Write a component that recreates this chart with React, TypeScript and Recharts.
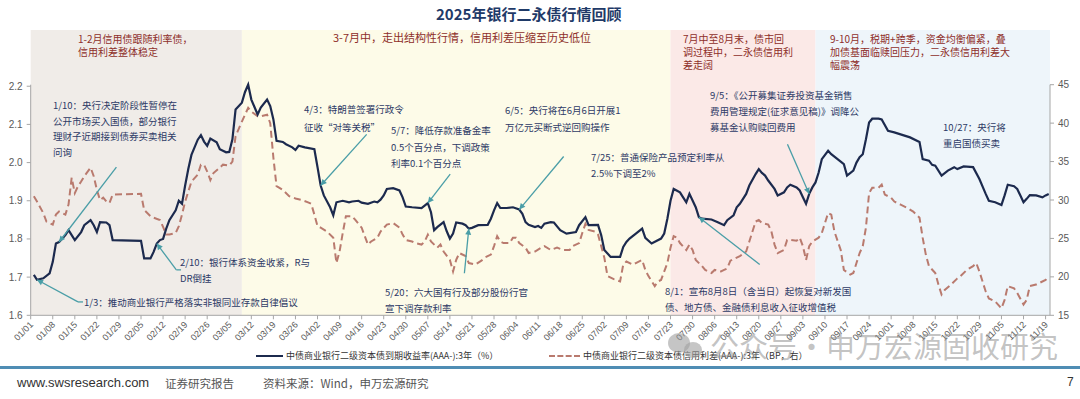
import React from "react"
import { ComposedChart, Line, XAxis, YAxis, ReferenceArea, ReferenceLine } from "recharts"

const tickLabels = [
  "01/01", "01/08", "01/15", "01/22", "01/29", "02/05", "02/12", "02/19", "02/26", "03/05",
  "03/12", "03/19", "03/26", "04/02", "04/09", "04/16", "04/23", "04/30", "05/07", "05/14",
  "05/21", "05/28", "06/04", "06/11", "06/18", "06/25", "07/02", "07/09", "07/16", "07/23",
  "07/30", "08/06", "08/13", "08/20", "08/27", "09/03", "09/10", "09/17", "09/24", "10/01",
  "10/08", "10/15", "10/22", "10/29", "11/05", "11/12", "11/19",
]

// 中债商业银行二级资本债到期收益率(AAA-):3年 (%)
const yieldDates = [
  "01/02", "01/03", "01/05", "01/07", "01/08", "01/09", "01/10", "01/12", "01/13", "01/15",
  "01/17", "01/18", "01/20", "01/21", "01/22", "01/23", "01/25", "01/26", "01/27", "02/05",
  "02/06", "02/08", "02/09", "02/10", "02/11", "02/12", "02/13", "02/14", "02/16", "02/17",
  "02/18", "02/19", "02/20", "02/21", "02/23", "02/24", "02/25", "02/26", "02/27", "03/01",
  "03/02", "03/04", "03/05", "03/06", "03/07", "03/09", "03/10", "03/11", "03/12", "03/14",
  "03/15", "03/17", "03/18", "03/19", "03/20", "03/22", "03/23", "03/25", "03/26", "03/27",
  "03/29", "04/01", "04/02", "04/03", "04/04", "04/06", "04/07", "04/08", "04/10", "04/12",
  "04/13", "04/15", "04/16", "04/18", "04/20", "04/21", "04/22", "04/23", "04/24", "04/26",
  "04/28", "04/29", "04/30", "05/02", "05/05", "05/07", "05/08", "05/09", "05/10", "05/12",
  "05/13", "05/14", "05/15", "05/16", "05/18", "05/19", "05/20", "05/21", "05/23", "05/26",
  "05/27", "05/28", "05/29", "05/30", "06/01", "06/03", "06/05", "06/06", "06/07", "06/08",
  "06/10", "06/11", "06/12", "06/13", "06/15", "06/16", "06/18", "06/20", "06/23", "06/24",
  "06/26", "06/27", "06/30", "07/01", "07/02", "07/04", "07/07", "07/08", "07/09", "07/10",
  "07/12", "07/14", "07/15", "07/17", "07/20", "07/21", "07/22", "07/23", "07/24", "07/26",
  "07/27", "07/28", "07/29", "07/31", "08/01", "08/02", "08/05", "08/07", "08/09", "08/10",
  "08/12", "08/13", "08/14", "08/15", "08/16", "08/17", "08/19", "08/20", "08/21", "08/22",
  "08/23", "08/25", "08/26", "08/28", "08/29", "08/30", "09/01", "09/02", "09/03", "09/04",
  "09/05", "09/06", "09/07", "09/08", "09/09", "09/11", "09/12", "09/14", "09/16", "09/17",
  "09/19", "09/20", "09/21", "09/22", "09/23", "09/24", "09/25", "09/27", "09/28", "09/30",
  "10/02", "10/04", "10/07", "10/10", "10/11", "10/13", "10/14", "10/15", "10/17", "10/19",
  "10/21", "10/22", "10/24", "10/27", "10/29", "10/31", "11/01", "11/03", "11/05", "11/06",
  "11/07", "11/09", "11/10", "11/11", "11/12", "11/13", "11/14", "11/16", "11/18", "11/19",
  "11/20",
]
const yieldValues = [
  1.706, 1.693, 1.697, 1.71, 1.74, 1.788, 1.792, 1.81, 1.823, 1.797,
  1.818, 1.836, 1.849, 1.836, 1.818, 1.844, 1.843, 1.836, 1.797, 1.795,
  1.749, 1.749, 1.766, 1.788, 1.797, 1.8, 1.827, 1.849, 1.875, 1.9,
  1.892, 1.94, 1.983, 2.02, 2.06, 2.072, 2.055, 2.044, 2.063, 2.053,
  2.035, 2.027, 2.028, 2.061, 2.139, 2.157, 2.185, 2.204, 2.165, 2.126,
  2.144, 2.165, 2.148, 2.113, 2.057, 2.054, 2.048, 2.04, 2.033, 2.044,
  2.04, 2.035, 1.988, 1.94, 1.914, 1.883, 1.862, 1.896, 1.9, 1.896,
  1.898, 1.9, 1.895, 1.892, 1.898, 1.896, 1.903, 1.914, 1.931, 1.933,
  1.927, 1.909, 1.885, 1.883, 1.881, 1.894, 1.87, 1.823, 1.831, 1.844,
  1.82, 1.801, 1.814, 1.843, 1.84, 1.836, 1.827, 1.829, 1.836, 1.837,
  1.853, 1.875, 1.894, 1.881, 1.881, 1.883, 1.877, 1.866, 1.844, 1.837,
  1.831, 1.834, 1.829, 1.84, 1.844, 1.843, 1.823, 1.814, 1.818, 1.836,
  1.857, 1.836, 1.837, 1.81, 1.771, 1.753, 1.753, 1.779, 1.792, 1.801,
  1.814, 1.827, 1.803, 1.788, 1.801, 1.814, 1.853, 1.9, 1.931, 1.922,
  1.909, 1.896, 1.918, 1.883, 1.857, 1.853, 1.851, 1.844, 1.836, 1.849,
  1.862, 1.883, 1.892, 1.905, 1.918, 1.94, 1.97, 1.983, 1.973, 1.966,
  1.953, 1.931, 1.914, 1.922, 1.935, 1.942, 1.935, 1.927, 1.909, 1.892,
  1.918, 1.935, 1.948, 1.974, 2.009, 2.031, 2.022, 2.009, 1.996, 1.966,
  1.979, 2.0, 2.014, 2.022, 2.061, 2.105, 2.115, 2.115, 2.113, 2.083,
  2.079, 2.074, 2.066, 2.054, 2.009, 2.005, 1.994, 1.992, 1.966, 1.979,
  1.988, 1.983, 1.99, 1.988, 1.957, 1.918, 1.9, 1.896, 1.889, 1.914,
  1.942, 1.938, 1.931, 1.914, 1.896, 1.905, 1.915, 1.914, 1.909, 1.914,
  1.918,
]

// 中债商业银行二级资本债信用利差(AAA-):3年 (BP，右)
const spreadDates = [
  "01/02", "01/03", "01/05", "01/06", "01/08", "01/09", "01/10", "01/11", "01/12", "01/13",
  "01/14", "01/15", "01/16", "01/17", "01/18", "01/20", "01/21", "01/22", "01/23", "01/24",
  "01/25", "01/26", "01/27", "02/05", "02/06", "02/08", "02/09", "02/11", "02/12", "02/13",
  "02/14", "02/16", "02/17", "02/18", "02/19", "02/20", "02/21", "02/23", "02/24", "02/25",
  "02/26", "02/27", "02/28", "03/02", "03/03", "03/05", "03/06", "03/07", "03/09", "03/11",
  "03/12", "03/14", "03/15", "03/17", "03/18", "03/19", "03/20", "03/22", "03/24", "03/26",
  "03/28", "03/30", "03/31", "04/01", "04/02", "04/03", "04/05", "04/07", "04/08", "04/09",
  "04/10", "04/11", "04/13", "04/14", "04/16", "04/18", "04/19", "04/21", "04/22", "04/24",
  "04/26", "04/28", "04/29", "04/30", "05/02", "05/03", "05/05", "05/06", "05/07", "05/08",
  "05/10", "05/11", "05/12", "05/14", "05/15", "05/16", "05/17", "05/19", "05/20", "05/22",
  "05/24", "05/25", "05/27", "05/28", "05/29", "05/30", "05/31", "06/02", "06/03", "06/04",
  "06/05", "06/07", "06/08", "06/10", "06/12", "06/13", "06/15", "06/17", "06/19", "06/21",
  "06/22", "06/24", "06/25", "06/26", "06/27", "06/29", "06/30", "07/02", "07/03", "07/05",
  "07/07", "07/08", "07/09", "07/11", "07/12", "07/14", "07/15", "07/16", "07/18", "07/19",
  "07/20", "07/22", "07/23", "07/24", "07/25", "07/26", "07/28", "07/29", "07/30", "07/31",
  "08/02", "08/03", "08/05", "08/06", "08/08", "08/09", "08/10", "08/11", "08/13", "08/14",
  "08/16", "08/17", "08/18", "08/19", "08/20", "08/21", "08/23", "08/24", "08/25", "08/26",
  "08/28", "08/29", "08/30", "09/01", "09/02", "09/03", "09/04", "09/05", "09/06", "09/08",
  "09/09", "09/10", "09/11", "09/12", "09/13", "09/15", "09/16", "09/18", "09/19", "09/20",
  "09/21", "09/22", "09/23", "09/24", "09/25", "09/27", "09/28", "09/29", "10/01", "10/02",
  "10/04", "10/06", "10/08", "10/10", "10/11", "10/12", "10/13", "10/15", "10/16", "10/17",
  "10/18", "10/20", "10/22", "10/23", "10/25", "10/27", "10/28", "10/29", "10/31", "11/01",
  "11/03", "11/05", "11/06", "11/07", "11/09", "11/10", "11/12", "11/13", "11/14", "11/16",
  "11/17", "11/19", "11/20",
]
const spreadValues = [
  30.5, 29.8, 28.3, 27.2, 26.8, 28.1, 28.5, 28.3, 28.1, 29.4,
  32.9, 30.9, 31.8, 32.4, 33.1, 34.2, 33.1, 31.3, 30.0, 30.3,
  29.8, 29.6, 30.7, 30.8, 28.7, 27.9, 27.7, 27.4, 26.5, 25.5,
  25.5, 25.7, 26.6, 28.1, 29.8, 31.1, 32.4, 33.3, 34.6, 34.6,
  33.7, 32.6, 33.5, 34.2, 34.6, 34.5, 35.0, 38.3, 40.2, 42.0,
  41.5, 40.9, 40.9, 41.1, 40.0, 35.5, 31.8, 31.3, 30.5, 30.2,
  30.0, 29.7, 29.5, 28.1, 26.6, 26.4, 25.9, 25.1, 21.8, 23.3,
  25.7, 27.9, 27.9, 27.4, 26.4, 24.2, 24.6, 25.1, 25.9, 26.8,
  27.0, 26.4, 25.5, 24.8, 24.6, 24.4, 24.2, 24.6, 25.5, 24.6,
  23.8, 24.2, 23.3, 22.2, 20.7, 22.2, 23.1, 22.7, 21.8, 21.6,
  22.1, 22.5, 22.9, 24.0, 25.3, 24.6, 24.4, 24.4, 25.1, 25.1,
  24.4, 23.8, 23.1, 23.3, 23.8, 24.0, 23.5, 23.8, 23.5, 23.5,
  24.0, 24.4, 25.7, 26.9, 26.1, 25.9, 25.5, 22.5, 20.1, 19.7,
  19.4, 21.6, 22.0, 21.6, 21.8, 22.2, 20.9, 20.1, 18.8, 19.4,
  19.6, 21.8, 23.8, 25.3, 25.1, 24.4, 23.5, 24.2, 23.5, 22.2,
  21.4, 20.9, 20.5, 20.9, 20.7, 20.9, 21.1, 22.1, 22.5, 22.7,
  23.3, 24.6, 25.9, 27.2, 27.4, 27.0, 26.8, 25.9, 24.2, 23.1,
  23.5, 24.8, 24.8, 24.7, 25.1, 24.0, 22.2, 24.0, 24.6, 25.1,
  25.7, 27.0, 28.3, 28.1, 25.9, 23.5, 20.9, 20.3, 20.5, 21.8,
  23.1, 24.0, 26.4, 30.9, 31.6, 31.6, 32.0, 30.7, 30.3, 29.8,
  29.4, 29.0, 28.5, 27.7, 25.1, 22.9, 21.4, 20.5, 19.0, 17.7,
  18.3, 19.0, 19.8, 20.1, 20.9, 21.4, 21.8, 20.7, 18.1, 17.2,
  16.8, 15.9, 17.0, 18.8, 18.5, 17.9, 16.4, 17.0, 18.8, 19.0,
  19.2, 19.6, 20.1,
]

const leftTicks = [1.6, 1.7, 1.8, 1.9, 2.0, 2.1, 2.2]
const rightTicks = [15, 20, 25, 30, 35, 40, 45]

const dayOf = (md: string) => {
  const [m, d] = md.split("/").map(Number)
  return (Date.UTC(2025, m - 1, d) - Date.UTC(2025, 0, 1)) / 86400000
}

const rowMap = new Map<number, { x: number; y?: number; s?: number }>()
yieldDates.forEach((d, i) => {
  const x = dayOf(d)
  rowMap.set(x, { ...(rowMap.get(x) || { x }), y: yieldValues[i] })
})
spreadDates.forEach((d, i) => {
  const x = dayOf(d)
  rowMap.set(x, { ...(rowMap.get(x) || { x }), s: spreadValues[i] })
})
const data = [...rowMap.values()].sort((a, b) => a.x - b.x)

const xEnd = dayOf("11/20") + 0.4
const bandTop = 2.347

const bands = [
  { from: "01/01", to: "03/09", fill: "#f0ece8" },
  { from: "03/09", to: "07/23", fill: "#fdfbe8" },
  { from: "07/23", to: "09/07", fill: "#fbe9e7" },
  { from: "09/07", to: null, fill: "#eef5fa" },
]

const yieldAt = (md: string) => yieldValues[yieldDates.indexOf(md)]

// arrow tails sit next to the note texts (day, left-axis value)
const arrows = [
  { tip: "01/03", tx: 15, ty: 1.635, elbow: 16.6 },
  { tip: "01/10", tx: 27.2, ty: 1.988 },
  { tip: "02/10", tx: 46.2, ty: 1.719, elbow: 47.7 },
  { tip: "04/03", tx: 106.6, ty: 2.074 },
  { tip: "05/07", tx: 133.1, ty: 1.97 },
  { tip: "05/20", tx: 137.6, ty: 1.71 },
  { tip: "06/05", tx: 169.1, ty: 2.016 },
  { tip: "08/01", tx: 231.3, ty: 1.733 },
  { tip: "09/05", tx: 240.1, ty: 2.048 },
]

const headers = [
  { left: 78, top: 32, size: 10, lines: ["1-2月信用债跟随利率债，", "信用利差整体稳定"] },
  { left: 333, top: 31, size: 11, lines: ["3-7月中，走出结构性行情，信用利差压缩至历史低位"] },
  { left: 683, top: 32, size: 10, lines: ["7月中至8月末，债市回", "调过程中，二永债信用利", "差走阔"] },
  { left: 830, top: 32, size: 10, lines: ["9-10月，税期+跨季，资金均衡偏紧，叠", "加债基面临赎回压力，二永债信用利差大", "幅震荡"] },
]

const notes = [
  { left: 53, top: 98, lh: 15.7, lines: ["1/10：央行决定阶段性暂停在", "公开市场买入国债，部分银行", "理财子近期接到债券买卖相关", "问询"] },
  { left: 84, top: 294, lh: 16, lines: ["1/3：推动商业银行严格落实非银同业存款自律倡议"] },
  { left: 180, top: 254, lh: 16, lines: ["2/10：银行体系资金收紧，R与", "DR倒挂"] },
  { left: 304, top: 101, lh: 17.5, lines: ["4/3：特朗普签署行政令", "征收“对等关税”"] },
  { left: 391, top: 122, lh: 16.5, lines: ["5/7：降低存款准备金率", "0.5个百分点，下调政策", "利率0.1个百分点"] },
  { left: 385, top: 283.5, lh: 16.5, lines: ["5/20：六大国有行及部分股份行官", "宣下调存款利率"] },
  { left: 505, top: 101.5, lh: 17, lines: ["6/5：央行将在6月6日开展1", "万亿元买断式逆回购操作"] },
  { left: 591, top: 148.5, lh: 16, lines: ["7/25：普通保险产品预定利率从", "2.5%下调至2%"] },
  { left: 665, top: 282.7, lh: 16, lines: ["8/1：宣布8月8日（含当日）起恢复对新发国", "债、地方债、金融债利息收入征收增值税"] },
  { left: 710, top: 87, lh: 16, lines: ["9/5：《公开募集证券投资基金销售", "费用管理规定(征求意见稿)》调降公", "募基金认购赎回费用"] },
  { left: 943, top: 118.7, lh: 16, lines: ["10/27：央行将", "重启国债买卖"] },
]

const CJK = "'Noto Sans CJK SC', 'Noto Sans', sans-serif"
const arrowColor = "#4a9ea7"

const arrowShape = (head: boolean) => (p: any) => {
  const { x1, y1, x2, y2 } = p
  const a = Math.atan2(y2 - y1, x2 - x1)
  const L = 6
  const W = 3
  const bx = x2 - L * Math.cos(a)
  const by = y2 - L * Math.sin(a)
  return (
    <g>
      <line x1={x1} y1={y1} x2={x2} y2={y2} stroke={arrowColor} strokeWidth={1.3} />
      {head && (
        <polygon
          points={`${x2},${y2} ${bx + W * Math.sin(a)},${by - W * Math.cos(a)} ${bx - W * Math.sin(a)},${by + W * Math.cos(a)}`}
          fill={arrowColor}
        />
      )}
    </g>
  )
}

const XTick = (props: any) => {
  const { x, y, payload } = props
  const label = tickLabels[Math.round(payload.value / 7)]
  return (
    <text
      x={x + 3}
      y={y + 4}
      transform={`rotate(-45 ${x + 3} ${y + 4})`}
      textAnchor="end"
      fontSize={9}
      fill="#595959"
      fontFamily="Arial, 'Liberation Sans', sans-serif"
    >
      {label}
    </text>
  )
}

export default function App() {
  const tickDays = tickLabels.map(dayOf)
  return (
    <div style={{ position: "absolute", left: 0, top: 0, width: 1080, height: 399, background: "#fff", overflow: "hidden", fontFamily: CJK }}>
      <style>{`body{margin:0}`}</style>

      <div style={{ position: "absolute", left: 436, top: 3, fontSize: 15, fontWeight: 700, color: "#1f3a68", whiteSpace: "nowrap" }}>
        2025年银行二永债行情回顾
      </div>

      <div style={{ position: "absolute", left: 0, top: 0 }}>
        <ComposedChart width={1080} height={399} data={data} margin={{ top: 84.7, right: 0, bottom: 53.7, left: 0 }}>
          {bands.map((b, i) => (
            <ReferenceArea
              key={i}
              yAxisId="left"
              x1={dayOf(b.from)}
              x2={b.to ? dayOf(b.to) : xEnd}
              y1={1.6}
              y2={bandTop}
              fill={b.fill}
              fillOpacity={1}
              stroke="none"
              ifOverflow="visible"
            />
          ))}
          <XAxis
            dataKey="x"
            type="number"
            domain={[0, xEnd]}
            ticks={tickDays}
            interval={0}
            height={30}
            tick={<XTick />}
            tickSize={4}
            tickMargin={2}
            stroke="#a6a6a6"
            allowDataOverflow
          />
          <YAxis
            yAxisId="left"
            width={30.7}
            domain={[1.6, 2.2]}
            ticks={leftTicks}
            tickFormatter={(v: number) => v.toFixed(1)}
            tickSize={4}
            tickMargin={4}
            tick={{ fontSize: 10, fill: "#595959", fontFamily: "Arial, 'Liberation Sans', sans-serif" }}
            stroke="#a6a6a6"
          />
          <YAxis
            yAxisId="right"
            orientation="right"
            width={30}
            domain={[15, 45]}
            ticks={rightTicks}
            tickSize={4}
            tickMargin={4}
            tick={{ fontSize: 10, fill: "#595959", fontFamily: "Arial, 'Liberation Sans', sans-serif" }}
            stroke="#a6a6a6"
          />
          <Line
            yAxisId="right"
            dataKey="s"
            type="linear"
            stroke="#b97a6e"
            strokeWidth={2}
            strokeDasharray="7 4"
            dot={false}
            connectNulls
            isAnimationActive={false}
          />
          <Line
            yAxisId="left"
            dataKey="y"
            type="linear"
            stroke="#1c2a4e"
            strokeWidth={2.2}
            dot={false}
            connectNulls
            isAnimationActive={false}
          />
          {arrows.map((a, i) => (
            <ReferenceLine
              key={`a${i}`}
              yAxisId="left"
              segment={[{ x: a.tx, y: a.ty }, { x: dayOf(a.tip), y: yieldAt(a.tip) }]}
              ifOverflow="visible"
              shape={arrowShape(true)}
            />
          ))}
          {arrows.filter((a) => a.elbow).map((a, i) => (
            <ReferenceLine
              key={`e${i}`}
              yAxisId="left"
              segment={[{ x: a.tx, y: a.ty }, { x: a.elbow as number, y: a.ty }]}
              ifOverflow="visible"
              shape={arrowShape(false)}
            />
          ))}
        </ComposedChart>
      </div>

      {headers.map((h, i) => (
        <div key={i} style={{ position: "absolute", left: h.left, top: h.top, fontSize: h.size, lineHeight: "13px", color: "#8e2f2a", whiteSpace: "nowrap" }}>
          {h.lines.map((l, j) => <div key={j}>{l}</div>)}
        </div>
      ))}

      {notes.map((n, i) => (
        <div key={i} style={{ position: "absolute", left: n.left, top: n.top, fontSize: 9.5, lineHeight: `${n.lh}px`, color: "#2d3a66", whiteSpace: "nowrap" }}>
          {n.lines.map((l, j) => <div key={j}>{l}</div>)}
        </div>
      ))}

      {/* legend */}
      <div style={{ position: "absolute", left: 256, top: 355, width: 27, borderTop: "2px solid #1c2a4e" }} />
      <div style={{ position: "absolute", left: 286, top: 349, fontSize: 9, color: "#333", whiteSpace: "nowrap" }}>
        中债商业银行二级资本债到期收益率(AAA-):3年（%）
      </div>
      <div style={{ position: "absolute", left: 549, top: 355, width: 31, borderTop: "2px dashed #b97a6e" }} />
      <div style={{ position: "absolute", left: 583, top: 349, fontSize: 9, color: "#333", whiteSpace: "nowrap" }}>
        中债商业银行二级资本债信用利差(AAA-):3年（BP，右）
      </div>

      {/* watermark */}
      <div style={{ position: "absolute", left: 668, top: 333, width: 22, height: 20, borderRadius: "50%", background: "rgba(150,150,150,0.55)" }} />
      <div style={{ position: "absolute", left: 684, top: 342, width: 18, height: 16, borderRadius: "50%", background: "rgba(160,160,160,0.6)" }} />
      <div style={{ position: "absolute", left: 710, top: 324, fontSize: 29, color: "rgba(145,145,145,0.55)", whiteSpace: "nowrap" }}>
        公众号·申万宏源固收研究
      </div>

      {/* footer */}
      <div style={{ position: "absolute", left: 0, top: 366, width: 1080, height: 3, background: "#4f8db4" }} />
      <div style={{ position: "absolute", left: 17, top: 375, fontSize: 13, color: "#333", fontFamily: "Arial, 'Liberation Sans', sans-serif" }}>
        www.swsresearch.com
      </div>
      <div style={{ position: "absolute", left: 165, top: 375, fontSize: 11.5, color: "#555" }}>证券研究报告</div>
      <div style={{ position: "absolute", left: 263, top: 375, fontSize: 11.5, color: "#555" }}>资料来源：Wind，申万宏源研究</div>
      <div style={{ position: "absolute", left: 1067, top: 375, fontSize: 12, color: "#333", fontFamily: "Arial, 'Liberation Sans', sans-serif" }}>7</div>
    </div>
  )
}
